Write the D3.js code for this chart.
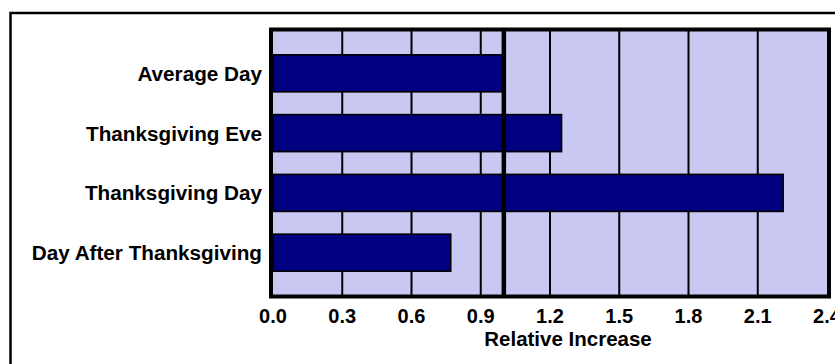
<!DOCTYPE html>
<html>
<head>
<meta charset="utf-8">
<script src="https://cdn.jsdelivr.net/npm/d3@7"></script>
<style>
  html, body { margin: 0; padding: 0; background: #ffffff; }
  svg { display: block; }
  text { font-family: "Liberation Sans", Arial, sans-serif; font-weight: bold; fill: #000; }
</style>
</head>
<body>
<svg id="chart" width="835" height="364"></svg>
<script>
const categories = ["Average Day", "Thanksgiving Eve", "Thanksgiving Day", "Day After Thanksgiving"];
const values = [1.0, 1.25, 2.21, 0.77];
const tickValues = [0, 0.3, 0.6, 0.9, 1.2, 1.5, 1.8, 2.1, 2.4];
const referenceValue = [1.0];
const axisTitle = "Relative Increase";

const svg = d3.select("#chart");

// outer frame (extends beyond the visible area on the right and bottom)
svg.append("rect")
  .attr("x", 10.5).attr("y", 13)
  .attr("width", 1000).attr("height", 600)
  .attr("fill", "none").attr("stroke", "#000").attr("stroke-width", 2.5);

const x = d3.scaleLinear().domain([0, 2.4]).range([273, 827]);
const y = d3.scaleBand().domain(categories).range([31.5, 294.5])
  .paddingInner(0.381).paddingOuter(0.39);

// plot background
svg.append("rect")
  .attr("x", 271).attr("y", 29.5)
  .attr("width", 829 - 271).attr("height", 296.5 - 29.5)
  .attr("fill", "#C8C8F3");

// gridlines
svg.append("g").selectAll("line")
  .data(tickValues.slice(1, -1))
  .join("line")
  .attr("x1", d => x(d)).attr("x2", d => x(d))
  .attr("y1", 31).attr("y2", 295)
  .attr("stroke", "#000").attr("stroke-width", 2);

// bars
svg.append("g").selectAll("rect")
  .data(categories)
  .join("rect")
  .attr("x", x(0))
  .attr("y", d => y(d))
  .attr("width", (d, i) => x(values[i]) - x(0))
  .attr("height", y.bandwidth())
  .attr("fill", "#000080")
  .attr("stroke", "#000")
  .attr("stroke-width", 1.6);

// reference line at 1.0
svg.append("g").selectAll("line")
  .data(referenceValue)
  .join("line")
  .attr("x1", d => x(d)).attr("x2", d => x(d))
  .attr("y1", 30).attr("y2", 296)
  .attr("stroke", "#000").attr("stroke-width", 4.5);

// plot border
svg.append("rect")
  .attr("x", 271).attr("y", 29.5)
  .attr("width", 829 - 271).attr("height", 296.5 - 29.5)
  .attr("fill", "none").attr("stroke", "#000").attr("stroke-width", 4);

// category labels
svg.append("g").selectAll("text")
  .data(categories)
  .join("text")
  .attr("x", 262)
  .attr("y", d => y(d) + y.bandwidth() / 2)
  .attr("dy", "0.36em")
  .attr("text-anchor", "end")
  .style("font-size", "20.7px")
  .text(d => d);

// x tick labels
svg.append("g").selectAll("text")
  .data(tickValues)
  .join("text")
  .attr("x", d => x(d))
  .attr("y", 323)
  .attr("text-anchor", "middle")
  .style("font-size", "20px")
  .text(d => d3.format(".1f")(d));

// axis title
svg.append("text")
  .attr("x", 568).attr("y", 346)
  .attr("text-anchor", "middle")
  .style("font-size", "20.5px")
  .text(axisTitle);
</script>
</body>
</html>
